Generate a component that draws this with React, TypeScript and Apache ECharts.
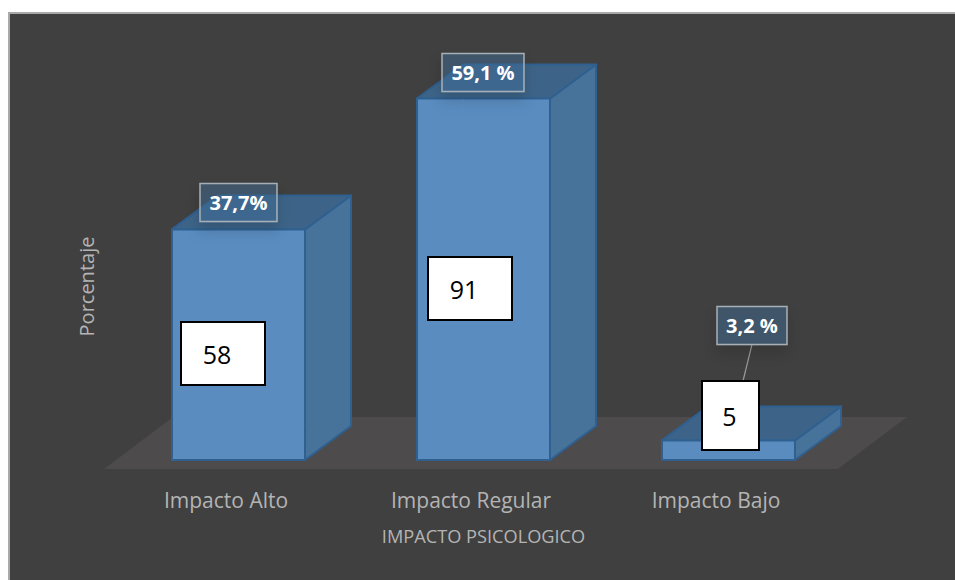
import React, { useEffect, useRef } from "react";
import * as echarts from "echarts";

const categories = ["Impacto Alto", "Impacto Regular", "Impacto Bajo"];
const percentages = [37.7, 59.1, 3.2];
const counts = [58, 91, 5];
const percentLabels = ["37,7%", "59,1 %", "3,2 %"];

// Layout of the annotations, relative to each bar (pixels)
const BAR_W = 133;
const DX = 46;
const DY = 34;
const countBox = [
  { dx: -57.5, up: 138, w: 84, h: 63 },
  { dx: -55.5, up: 203, w: 84, h: 63 },
  { dx: -26.5, up: 79, w: 57, h: 69 },
];
const percentBox = [
  { dx: -38.5, up: 46, w: 77, h: 38 },
  { dx: -41.5, up: 45, w: 82, h: 38 },
  { dx: -11.5, up: 134, w: 70, h: 38 },
];

const FONT = '"Open Sans", sans-serif';
const TEXT_GREY = "#b4b4b4";

export default function App() {
  const ref = useRef<HTMLDivElement>(null);
  useEffect(() => {
    const chart = echarts.init(ref.current!, null, { renderer: "svg" });

    const renderBar = (params: any, api: any) => {
      const i = api.value(0);
      const [cx, top] = api.coord([i, api.value(1)]);
      const [, base] = api.coord([i, 0]);
      const l = cx - BAR_W / 2;
      const r = cx + BAR_W / 2;
      const edge = { stroke: "#2f6090", lineWidth: 2, lineJoin: "round" };
      const children: any[] = [
        {
          type: "polygon",
          shape: { points: [[r, top], [r + DX, top - DY], [r + DX, base - DY], [r, base]] },
          style: { fill: "#47729a", ...edge },
        },
        {
          type: "polygon",
          shape: { points: [[l, top], [l + DX, top - DY], [r + DX, top - DY], [r, top]] },
          style: { fill: "#3d6488", ...edge },
        },
        {
          type: "rect",
          shape: { x: l, y: top, width: BAR_W, height: base - top },
          style: { fill: "#5a8cc0", ...edge },
        },
      ];
      if (top < base - DY) {
        children.push(
          {
            type: "polyline",
            shape: { points: [[l, base], [l + DX, base - DY], [r, base - DY]] },
            style: { fill: "none", stroke: "rgba(90,150,210,0.28)", lineWidth: 1 },
          },
          {
            type: "line",
            shape: { x1: l + DX, y1: base - DY, x2: l + DX, y2: top },
            style: { stroke: "rgba(90,150,210,0.28)", lineWidth: 1 },
          }
        );
      }
      return { type: "group", children };
    };

    const renderNotes = (params: any, api: any) => {
      const i = api.value(0);
      const [cx, top] = api.coord([i, api.value(1)]);
      const [, base] = api.coord([i, 0]);
      const c = countBox[i];
      const p = percentBox[i];
      const cy = base - c.up;
      const py = top - p.up;
      const children: any[] = [];
      if (i === 2) {
        children.push({
          type: "line",
          shape: { x1: cx + p.dx + 35, y1: py + p.h, x2: cx + p.dx + 26, y2: cy },
          style: { stroke: "#9a9a9a", lineWidth: 1.2 },
        });
      }
      children.push(
        {
          type: "rect",
          shape: { x: cx + p.dx, y: py, width: p.w, height: p.h },
          style: {
            fill: "rgba(70,115,160,0.42)",
            stroke: "#a6aeb6",
            lineWidth: 1.5,
            shadowBlur: 14,
            shadowColor: "rgba(0,0,0,0.3)",
            shadowOffsetY: 8,
          },
        },
        {
          type: "text",
          style: {
            text: percentLabels[i],
            x: cx + p.dx + p.w / 2,
            y: py + p.h / 2,
            align: "center",
            verticalAlign: "middle",
            fill: "#ffffff",
            font: `bold 20px ${FONT}`,
          },
        },
        {
          type: "rect",
          shape: { x: cx + c.dx, y: cy, width: c.w, height: c.h },
          style: { fill: "#ffffff", stroke: "#000000", lineWidth: 2 },
        },
        {
          type: "text",
          style: {
            text: String(api.value(2)),
            x: cx + c.dx + c.w / 2 + (i === 2 ? -1 : -6),
            y: cy + c.h / 2,
            align: "center",
            verticalAlign: "middle",
            fill: "#000000",
            font: `25px ${FONT}`,
          },
        }
      );
      return { type: "group", children };
    };

    const rows = categories.map((_, i) => [i, percentages[i], counts[i]]);

    chart.setOption({
      animation: false,
      backgroundColor: "#ffffff",
      textStyle: { fontFamily: FONT },
      graphic: [
        {
          type: "rect",
          z: -10,
          shape: { x: 9, y: 13, width: 960, height: 580 },
          style: { fill: "#404040", stroke: "#a9a9a9", lineWidth: 2 },
        },
        {
          type: "polygon",
          z: -9,
          shape: { points: [[104, 469], [173, 417], [907, 417], [838, 469]] },
          style: { fill: "#4d4b4b" },
        },
      ],
      grid: { left: 116, width: 735, top: 93, height: 367 },
      xAxis: {
        type: "category",
        data: [
          { value: categories[0], textStyle: { padding: [0, 25, 0, 0] } },
          { value: categories[1], textStyle: { padding: [0, 25, 0, 0] } },
          { value: categories[2], textStyle: { padding: [0, 25, 0, 0] } },
        ],
        axisLine: { show: false },
        axisTick: { show: false },
        axisLabel: { color: TEXT_GREY, fontSize: 21, margin: 29, fontFamily: FONT },
        name: "IMPACTO PSICOLOGICO",
        nameLocation: "middle",
        nameGap: 67,
        nameTextStyle: { color: TEXT_GREY, fontSize: 18.2, fontFamily: FONT },
      },
      yAxis: {
        type: "value",
        min: 0,
        max: 60,
        interval: 20,
        axisLine: { show: false },
        axisTick: { show: false },
        axisLabel: { show: false },
        splitLine: { show: false },
        name: "Porcentaje",
        nameLocation: "middle",
        nameGap: 20,
        nameTextStyle: { color: TEXT_GREY, fontSize: 20, fontFamily: FONT, padding: [0, 20, 0, 0] },
      },
      series: [
        {
          type: "custom",
          clip: false,
          z: 2,
          renderItem: renderBar,
          encode: { x: 0, y: 1 },
          data: rows,
        },
        {
          type: "custom",
          clip: false,
          z: 3,
          renderItem: renderNotes,
          encode: { x: 0, y: 1 },
          data: rows,
        },
      ],
    });
    return () => chart.dispose();
  }, []);
  return (
    <div
      ref={ref}
      style={{ position: "fixed", left: 0, top: 0, width: 955, height: 580, overflow: "hidden" }}
    />
  );
}
